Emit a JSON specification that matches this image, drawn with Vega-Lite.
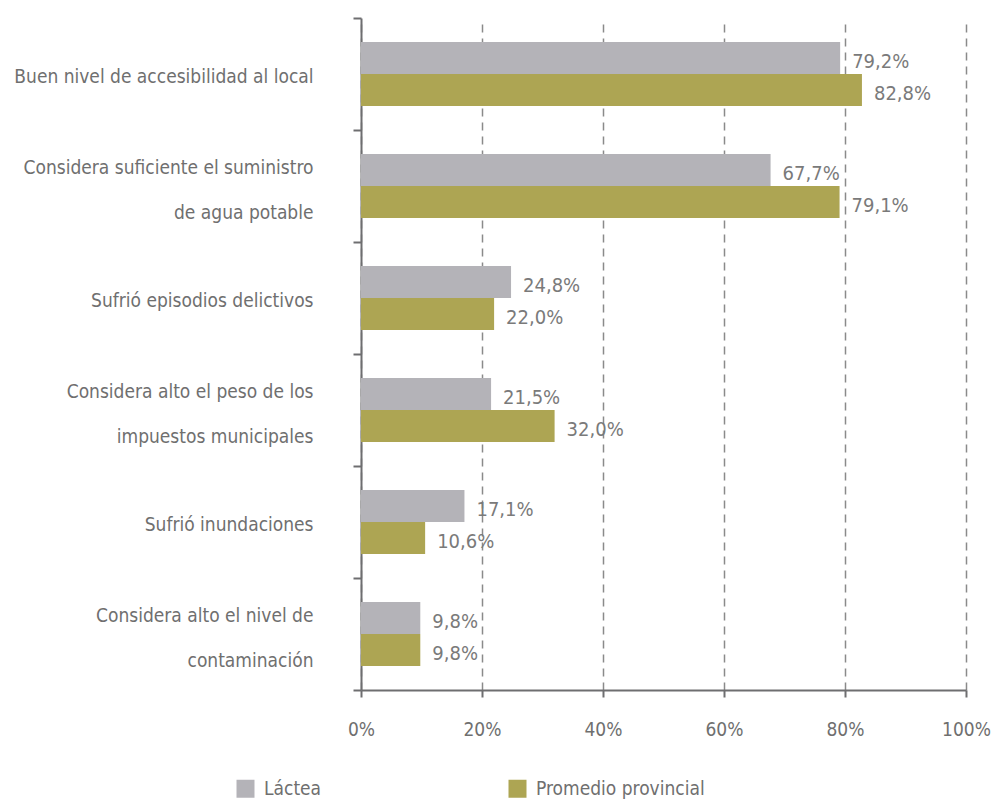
{
  "$schema": "https://vega.github.io/schema/vega-lite/v6.json",
  "width": 605,
  "height": 672,
  "autosize": {"type": "none"},
  "padding": {"left": 361, "top": 18, "right": 31, "bottom": 113},
  "config": {
    "locale": {"number": {"decimal": ",", "thousands": ".", "grouping": [3], "currency": ["", " €"]}},
    "view": {"stroke": null},
    "font": "DejaVu Sans Condensed, DejaVu Sans, sans-serif"
  },
  "data": {
    "values": [
      {"cat": "Buen nivel de accesibilidad al local", "serie": "Láctea", "v": 0.792},
      {"cat": "Buen nivel de accesibilidad al local", "serie": "Promedio provincial", "v": 0.828},
      {"cat": "Considera suficiente el suministro |de agua potable", "serie": "Láctea", "v": 0.677},
      {"cat": "Considera suficiente el suministro |de agua potable", "serie": "Promedio provincial", "v": 0.791},
      {"cat": "Sufrió episodios delictivos", "serie": "Láctea", "v": 0.248},
      {"cat": "Sufrió episodios delictivos", "serie": "Promedio provincial", "v": 0.220},
      {"cat": "Considera alto el peso de los |impuestos municipales", "serie": "Láctea", "v": 0.215},
      {"cat": "Considera alto el peso de los |impuestos municipales", "serie": "Promedio provincial", "v": 0.320},
      {"cat": "Sufrió inundaciones", "serie": "Láctea", "v": 0.171},
      {"cat": "Sufrió inundaciones", "serie": "Promedio provincial", "v": 0.106},
      {"cat": "Considera alto el nivel de |contaminación", "serie": "Láctea", "v": 0.098},
      {"cat": "Considera alto el nivel de |contaminación", "serie": "Promedio provincial", "v": 0.098}
    ]
  },
  "encoding": {
    "y": {
      "field": "cat",
      "type": "nominal",
      "sort": null,
      "scale": {"paddingInner": 0, "paddingOuter": 0},
      "axis": {
        "title": null,
        "tickBand": "extent",
        "tickSize": 8,
        "tickWidth": 2,
        "tickColor": "#6e6e70",
        "domainColor": "#6e6e70",
        "domainWidth": 2,
        "labelPadding": 40,
        "labelFontSize": 19,
        "labelColor": "#6f6f6f",
        "labelLineHeight": 45,
        "labelLimit": 500,
        "labelOffset": {"condition": {"test": "isValid(datum.value) && indexof(datum.value, '|') >= 0", "value": -19}, "value": 2},
        "labelExpr": "isValid(datum.value) ? split(datum.value, '|') : ''"
      }
    },
    "yOffset": {
      "field": "serie",
      "type": "nominal",
      "sort": ["Láctea", "Promedio provincial"],
      "scale": {"paddingInner": 0, "paddingOuter": 0.75}
    },
    "x": {
      "field": "v",
      "type": "quantitative",
      "scale": {"domain": [0, 1], "nice": false},
      "axis": {
        "title": null,
        "values": [0, 0.2, 0.4, 0.6, 0.8, 1],
        "format": ".0%",
        "grid": true,
        "gridDash": [8, 6],
        "gridColor": "#8a8a8a",
        "gridWidth": 1.5,
        "tickSize": 7,
        "tickWidth": 2,
        "tickColor": "#6e6e70",
        "domainColor": "#6e6e70",
        "domainWidth": 2,
        "labelPadding": 23,
        "labelFlush": false,
        "labelFontSize": 19,
        "labelColor": "#6f6f6f"
      }
    }
  },
  "layer": [
    {
      "mark": {"type": "bar"},
      "encoding": {
        "color": {
          "field": "serie",
          "type": "nominal",
          "sort": ["Láctea", "Promedio provincial"],
          "scale": {"domain": ["Láctea", "Promedio provincial"], "range": ["#b4b3b8", "#ada553"]},
          "legend": {
            "orient": "none",
            "legendX": -125,
            "legendY": 761,
            "direction": "horizontal",
            "title": null,
            "symbolType": "square",
            "symbolSize": 324,
            "symbolStrokeWidth": 0,
            "symbolOpacity": 1,
            "labelFontSize": 19,
            "labelColor": "#6f6f6f",
            "labelOffset": 9,
            "labelLimit": 400,
            "columnPadding": 186
          }
        }
      }
    },
    {
      "mark": {"type": "text", "align": "left", "dx": 12, "dy": 4, "fontSize": 20, "color": "#7a7a7a"},
      "encoding": {
        "text": {"field": "v", "type": "quantitative", "format": ".1%"}
      }
    }
  ]
}
